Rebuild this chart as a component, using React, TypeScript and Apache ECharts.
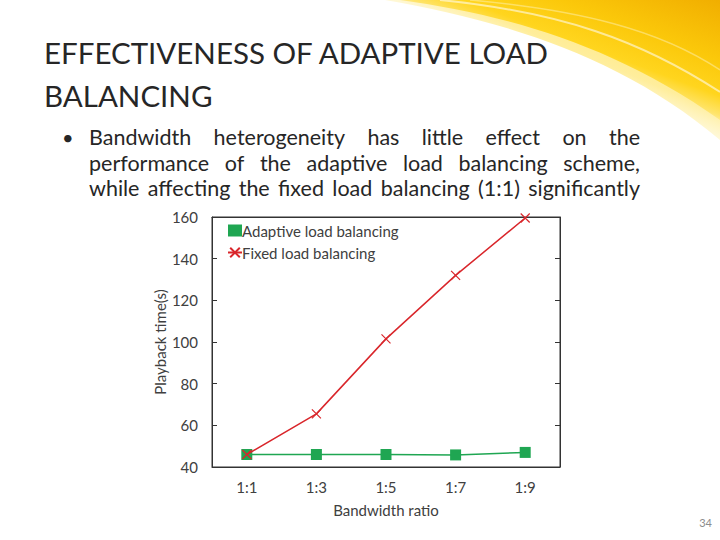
import * as echarts from 'echarts';
import React, { useEffect, useRef } from 'react';

const ratios = ['1:1', '1:3', '1:5', '1:7', '1:9'];
const adaptive = [46, 46, 46, 45.8, 47];
const fixed = [46, 65.5, 101.5, 132, 159.5];
const yTicks = { min: 40, max: 160, interval: 20 };

const titleLines = ['EFFECTIVENESS OF ADAPTIVE LOAD', 'BALANCING'];
const bulletLines = [
  'Bandwidth heterogeneity has little effect on the',
  'performance of the adaptive load balancing scheme,',
  'while affecting the fixed load balancing (1:1) significantly',
];
const pageNo = '34';

const FONT = 'Lato, "Open Sans", sans-serif';

// spread words of a line between x0 and x1
function justify(line: string, x0: number, x1: number, y: number, size: number) {
  const ctx = document.createElement('canvas').getContext('2d')!;
  ctx.font = `${size}px Lato`;
  const words = line.split(' ');
  const widths = words.map((w) => ctx.measureText(w).width);
  const total = widths.reduce((a, b) => a + b, 0);
  const gap = words.length > 1 ? (x1 - x0 - total) / (words.length - 1) : 0;
  let x = x0;
  return words.map((w, i) => {
    const el = {
      type: 'text',
      x,
      y,
      style: { text: w, fontSize: size, fontFamily: FONT, fill: '#262626', textVerticalAlign: 'middle' },
    };
    x += widths[i] + gap;
    return el;
  });
}

const App: React.FC = () => {
  const chartRef = useRef<HTMLDivElement>(null);

  useEffect(() => {
    document.body.style.margin = '0';
    echarts.graphic.registerShape(
      'swoosh',
      echarts.graphic.extendPath('M 400 0 C 500 14 610 42 720 120 L 720 0 Z', {})
    );
    echarts.graphic.registerShape(
      'swooshGlow',
      echarts.graphic.extendPath('M 385 0 C 500 20 620 55 720 140 L 720 0 Z', {})
    );
    const myChart = echarts.init(chartRef.current!, null, { renderer: 'svg' });

    // bullet size so that the last (natural) line spans the text column
    const ctx = document.createElement('canvas').getContext('2d')!;
    ctx.font = '20px Lato';
    const bulletSize = Math.min(21.5, (20 * 548) / ctx.measureText(bulletLines[2]).width);

    const axisText = { color: '#404040', fontSize: 15, fontFamily: FONT };

    const option = {
      animation: false,
      backgroundColor: '#ffffff',
      textStyle: { fontFamily: FONT },
      grid: {
        left: 212,
        right: 160,
        top: 217,
        bottom: 73,
        show: true,
        borderColor: '#333333',
        borderWidth: 1,
        backgroundColor: '#ffffff',
      },
      legend: {
        orient: 'vertical',
        left: 222,
        top: 218,
        itemGap: 7,
        itemWidth: 14,
        itemHeight: 12,
        textStyle: { color: '#404040', fontSize: 15, fontFamily: FONT, padding: [0, 0, 0, -5] },
        data: [
          { name: 'Adaptive load balancing', icon: 'rect' },
          { name: 'Fixed load balancing' },
        ],
      },
      xAxis: [
        {
          type: 'category',
          data: ratios,
          boundaryGap: true,
          name: 'Bandwidth ratio',
          nameLocation: 'middle',
          nameGap: 35,
          nameTextStyle: axisText,
          axisLine: { lineStyle: { color: '#333333' } },
          axisTick: { inside: true, length: 5, lineStyle: { color: '#333333' } },
          axisLabel: { ...axisText, margin: 12 },
        },
        {
          type: 'category',
          data: ratios,
          position: 'top',
          boundaryGap: true,
          axisLine: { lineStyle: { color: '#333333' } },
          axisTick: { inside: true, length: 5, lineStyle: { color: '#333333' } },
          axisLabel: { show: false },
        },
      ],
      yAxis: [
        {
          type: 'value',
          ...yTicks,
          name: 'Playback time(s)',
          nameLocation: 'middle',
          nameGap: 45,
          nameTextStyle: axisText,
          axisLine: { show: true, lineStyle: { color: '#333333' } },
          axisTick: { show: true, inside: true, length: 5, lineStyle: { color: '#333333' } },
          axisLabel: { ...axisText, margin: 14 },
          splitLine: { show: false },
        },
        {
          type: 'value',
          ...yTicks,
          position: 'right',
          axisLine: { show: true, lineStyle: { color: '#333333' } },
          axisTick: { show: true, inside: true, length: 5, lineStyle: { color: '#333333' } },
          axisLabel: { show: false },
          splitLine: { show: false },
        },
      ],
      series: [
        {
          name: 'Adaptive load balancing',
          type: 'line',
          data: adaptive,
          symbol: 'rect',
          symbolSize: 11,
          color: '#1fa652',
          lineStyle: { color: '#1fa652', width: 1.5 },
          itemStyle: { color: '#1fa652' },
          z: 2,
        },
        {
          name: 'Fixed load balancing',
          type: 'line',
          data: fixed,
          symbol: 'path://M0,0L10,10M10,0L0,10',
          symbolSize: 9,
          color: '#d9262b',
          lineStyle: { color: '#d9262b', width: 1.5 },
          itemStyle: { color: '#d9262b', borderColor: '#d9262b', borderWidth: 1.2 },
          z: 3,
        },
      ],
      graphic: [
        {
          type: 'swooshGlow',
          x: 0,
          y: 0,
          silent: true,
          z: -10,
          style: {
            fill: new echarts.graphic.LinearGradient(1, 0, 0, 1, [
              { offset: 0, color: 'rgba(255,214,40,0.9)' },
              { offset: 0.4, color: 'rgba(255,226,90,0.6)' },
              { offset: 0.55, color: 'rgba(255,246,200,0.3)' },
              { offset: 1, color: 'rgba(255,255,255,0)' },
            ]),
          },
        },
        {
          type: 'swoosh',
          x: 0,
          y: 0,
          silent: true,
          z: -9,
          style: {
            fill: new echarts.graphic.LinearGradient(1, 0, 0, 1, [
              { offset: 0, color: '#f1ae00' },
              { offset: 0.25, color: '#fbc80a' },
              { offset: 0.4, color: '#ffd51e' },
              { offset: 0.48, color: '#ffe46a' },
              { offset: 0.54, color: '#fff6d2' },
              { offset: 1, color: '#ffffff' },
            ]),
          },
        },
        {
          type: 'bezierCurve',
          silent: true,
          z: -8,
          shape: { x1: 440, y1: 0, x2: 720, y2: 92, cpx1: 560, cpy1: 12, cpx2: 640, cpy2: 40 },
          style: { stroke: 'rgba(255,255,255,0.55)', lineWidth: 2, fill: null },
        },
        {
          type: 'bezierCurve',
          silent: true,
          z: -8,
          shape: { x1: 470, y1: 0, x2: 720, y2: 70, cpx1: 580, cpy1: 10, cpx2: 660, cpy2: 30 },
          style: { stroke: 'rgba(255,250,220,0.4)', lineWidth: 1.5, fill: null },
        },
        ...titleLines.map((t, i) => ({
          type: 'text',
          x: 44,
          y: 52 + i * 43,
          style: {
            text: t,
            fontSize: 29.5,
            fontFamily: FONT,
            fill: '#262626',
            textVerticalAlign: 'middle',
          },
        })),
        {
          type: 'text',
          x: 62,
          y: 137,
          style: { text: '•', fontSize: 20, fontFamily: FONT, fill: '#262626', textVerticalAlign: 'middle' },
        },
        ...bulletLines.flatMap((l, i) => justify(l, 89, 640, 137 + i * 25.5, bulletSize)),
        {
          type: 'text',
          right: 8,
          top: 517,
          style: { text: pageNo, fontSize: 11, fontFamily: FONT, fill: '#8c8c8c' },
        },
      ],
    };

    myChart.setOption(option as any);

    return () => {
      myChart.dispose();
    };
  }, []);

  return <div ref={chartRef} style={{ width: '720px', height: '540px' }} />;
};

export default App;
